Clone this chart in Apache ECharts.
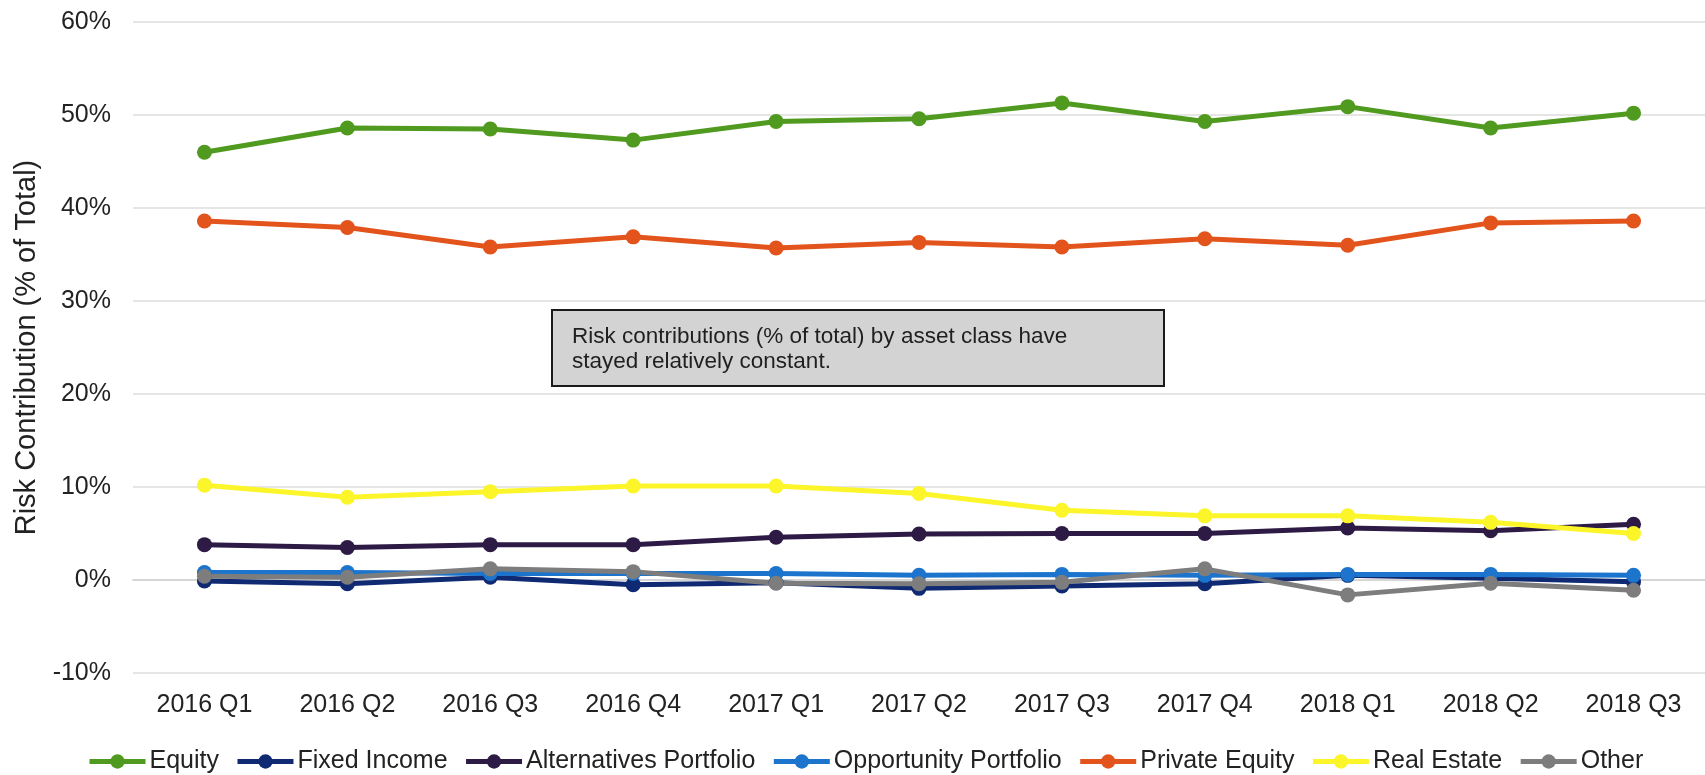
<!DOCTYPE html>
<html>
<head>
<meta charset="utf-8">
<title>Risk Contribution by Asset Class</title>
<script src="https://cdn.jsdelivr.net/npm/echarts@6/dist/echarts.min.js"></script>
<style>
  html, body { margin: 0; padding: 0; background: #ffffff; }
  #chart { width: 1705px; height: 775px; }
</style>
</head>
<body>
<div id="chart"></div>
<script>
// Quarterly risk contribution (% of total) per asset class
const quarters = ['2016 Q1', '2016 Q2', '2016 Q3', '2016 Q4', '2017 Q1', '2017 Q2',
                  '2017 Q3', '2017 Q4', '2018 Q1', '2018 Q2', '2018 Q3'];

const equity        = [46.0, 48.6, 48.5, 47.3, 49.3, 49.6, 51.3, 49.3, 50.9, 48.6, 50.2];
const fixedIncome   = [-0.1, -0.4, 0.3, -0.5, -0.3, -0.9, -0.65, -0.4, 0.5, 0.2, -0.2];
const alternatives  = [3.8, 3.5, 3.8, 3.8, 4.6, 4.95, 5.0, 5.0, 5.6, 5.3, 6.0];
const opportunity   = [0.8, 0.8, 0.7, 0.7, 0.7, 0.5, 0.6, 0.5, 0.6, 0.6, 0.5];
const privateEquity = [38.6, 37.9, 35.8, 36.9, 35.7, 36.3, 35.8, 36.7, 36.0, 38.4, 38.6];
const realEstate    = [10.2, 8.9, 9.5, 10.1, 10.1, 9.3, 7.5, 6.9, 6.9, 6.2, 5.0];
const other         = [0.4, 0.3, 1.2, 0.9, -0.35, -0.4, -0.25, 1.2, -1.6, -0.35, -1.1];

const seriesDefs = [
  { name: 'Equity',                 data: equity,        color: '#4f9a1f' },
  { name: 'Fixed Income',           data: fixedIncome,   color: '#0f2a72' },
  { name: 'Alternatives Portfolio', data: alternatives,  color: '#2d1b45' },
  { name: 'Opportunity Portfolio',  data: opportunity,   color: '#1c74cc' },
  { name: 'Private Equity',         data: privateEquity, color: '#e2541c' },
  { name: 'Real Estate',            data: realEstate,    color: '#fbf52a' },
  { name: 'Other',                  data: other,         color: '#7d7d7d' }
];

const note = 'Risk contributions (% of total) by asset class have\nstayed relatively constant.';

const FONT = "'Liberation Sans', Arial, Helvetica, sans-serif";
const chart = echarts.init(document.getElementById('chart'), null, { renderer: 'canvas' });

chart.setOption({
  animation: false,
  backgroundColor: '#ffffff',
  textStyle: { fontFamily: FONT },
  grid: { left: 133, right: 0, top: 22, bottom: 102, containLabel: false },
  xAxis: {
    type: 'category',
    data: quarters,
    boundaryGap: true,
    axisLine: { show: true, lineStyle: { color: '#d6d6d6', width: 2 } },
    axisTick: { show: false },
    axisLabel: { color: '#222222', fontSize: 25, margin: 20, fontFamily: FONT }
  },
  yAxis: {
    type: 'value',
    min: -10,
    max: 60,
    interval: 10,
    name: 'Risk Contribution (% of Total)',
    nameLocation: 'middle',
    nameGap: 88,
    nameTextStyle: { color: '#222222', fontSize: 29, fontFamily: FONT },
    axisLine: { show: false },
    axisTick: { show: false },
    axisLabel: { color: '#222222', fontSize: 25, margin: 22, formatter: v => v + '%' },
    splitLine: { lineStyle: { color: '#dcdcdc', width: 1.5 } }
  },
  legend: {
    top: 744,
    left: 82,
    itemWidth: 56,
    itemHeight: 18,
    itemGap: 16,
    lineStyle: { width: 5 },
    textStyle: { color: '#222222', fontSize: 25, fontFamily: FONT, padding: [0, 0, 0, -1] },
    data: seriesDefs.map(s => s.name)
  },
  series: seriesDefs.map(s => ({
    name: s.name,
    type: 'line',
    data: s.data,
    symbol: 'circle',
    symbolSize: 15,
    color: s.color,
    lineStyle: { width: 5, color: s.color },
    itemStyle: { color: s.color },
    emphasis: { disabled: true }
  })),
  graphic: [{
    type: 'group',
    left: 551,
    top: 309,
    children: [
      {
        type: 'rect',
        shape: { x: 0, y: 0, width: 612, height: 76 },
        style: { fill: '#d3d3d3', stroke: '#1a1a1a', lineWidth: 2 }
      },
      {
        type: 'text',
        left: 20,
        top: 14,
        style: {
          text: note,
          fill: '#1f1f1f',
          font: "22.5px 'Liberation Sans', Arial, sans-serif",
          lineHeight: 25
        }
      }
    ]
  }]
});
</script>
</body>
</html>
